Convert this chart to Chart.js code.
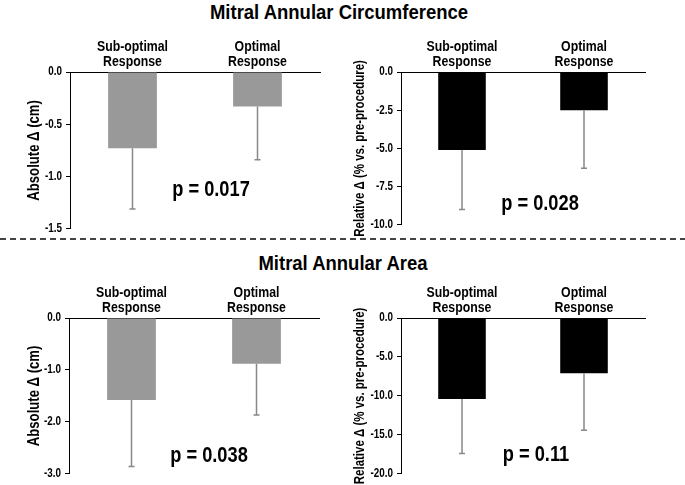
<!DOCTYPE html>
<html>
<head>
<meta charset="utf-8">
<script src="https://cdn.jsdelivr.net/npm/chart.js@4.4.0/dist/chart.umd.min.js"></script>
<style>
    body { margin: 0; background: #fff; }
    #wrap { position: relative; width: 685px; height: 485px; overflow: hidden;
        font-family: "Liberation Sans", Arial, sans-serif; font-weight: bold; color: #000; }
    canvas { position: absolute; }
    .title { position: absolute; font-size: 21px; line-height: 21px; white-space: nowrap;
        transform: translateX(-50%) scaleX(0.88); }
    .pval { position: absolute; font-size: 22px; line-height: 22px; white-space: nowrap;
        transform: translate(-50%, -50%) scaleX(0.83); }
    #dash { position: absolute; left: 0; top: 238px; width: 685px; height: 2px;
        background: repeating-linear-gradient(90deg, #444 0 6px, transparent 6px 10px); }
</style>
</head>
<body>
<div id="wrap">
    <div class="title" style="left:339px;top:1px;">Mitral Annular Circumference</div>
    <div id="dash"></div>
    <div class="title" style="left:343px;top:252px;">Mitral Annular Area</div>

    <canvas id="c1" width="340" height="210" style="left:0;top:30px;"></canvas>
    <canvas id="c2" width="345" height="206" style="left:340px;top:30px;"></canvas>
    <canvas id="c3" width="340" height="209" style="left:0;top:276px;"></canvas>
    <canvas id="c4" width="345" height="209" style="left:340px;top:276px;"></canvas>

    <div class="pval" style="left:211px;top:189px;">p = 0.017</div>
    <div class="pval" style="left:540px;top:203px;">p = 0.028</div>
    <div class="pval" style="left:209px;top:455px;">p = 0.038</div>
    <div class="pval" style="left:536px;top:454px;">p = 0.11</div>
</div>
<script>
var groups = [['Sub-optimal', 'Response'], ['Optimal', 'Response']];

// circumference
var circAbs = [-0.73, -0.33];
var circAbsErr = [-1.31, -0.84];
var circRel = [-5.1, -2.5];
var circRelErr = [-9.0, -6.3];

// area
var areaAbs = [-1.58, -0.88];
var areaAbsErr = [-2.86, -1.87];
var areaRel = [-10.4, -7.1];
var areaRelErr = [-17.4, -14.4];

var fontFam = '"Liberation Sans", Arial, sans-serif';

// no narrow font installed, so squeeze canvas text along its own direction
var narrowText = {
    id: 'narrowText',
    beforeInit: function (chart) {
        var ctx = chart.ctx;
        var fill = ctx.fillText;
        ctx.fillText = function (text, x, y) {
            this.save();
            this.translate(x, y);
            this.scale(0.82, 1);
            fill.call(this, text, 0, 0);
            this.restore();
        };
    }
};

// whiskers going down from each bar end, with a small cap
var errorBars = {
    id: 'errorBars',
    afterDatasetsDraw: function (chart) {
        var ctx = chart.ctx;
        var yScale = chart.scales.y;
        var errs = chart.data.datasets[0].errors;
        chart.getDatasetMeta(0).data.forEach(function (bar, i) {
            var yEnd = yScale.getPixelForValue(errs[i]);
            ctx.save();
            ctx.strokeStyle = '#888';
            ctx.lineWidth = 1.5;
            ctx.beginPath();
            ctx.moveTo(bar.x, bar.y);
            ctx.lineTo(bar.x, yEnd);
            ctx.moveTo(bar.x - 3, yEnd);
            ctx.lineTo(bar.x + 3, yEnd);
            ctx.stroke();
            ctx.restore();
        });
    }
};

function makePanel(id, vals, errs, color, yMin, step, yTitle, titleSize, yWidth, padRight, titlePad) {
    return new Chart(document.getElementById(id), {
        type: 'bar',
        data: {
            labels: groups,
            datasets: [{
                data: vals,
                errors: errs,
                backgroundColor: color,
                barPercentage: 0.39,
                categoryPercentage: 1
            }]
        },
        options: {
            responsive: false,
            animation: false,
            layout: { padding: { top: 0, right: padRight, bottom: 0, left: 0 } },
            scales: {
                x: {
                    position: 'top',
                    grid: { display: false, drawTicks: false },
                    border: { display: true, color: '#000', width: 1 },
                    ticks: {
                        color: '#000',
                        padding: 3,
                        maxRotation: 0,
                        autoSkip: false,
                        font: { family: fontFam, size: 15, weight: 'bold', lineHeight: 1 }
                    },
                    afterFit: function (s) { s.height = 42; }
                },
                y: {
                    min: yMin,
                    max: 0,
                    grid: { drawOnChartArea: false, drawTicks: true, tickLength: 4, color: '#000' },
                    border: { display: true, color: '#000', width: 1 },
                    ticks: {
                        stepSize: step,
                        color: '#000',
                        padding: 4,
                        font: { family: fontFam, size: 12, weight: 'bold' },
                        callback: function (v) { return v.toFixed(1); }
                    },
                    title: {
                        display: true,
                        text: yTitle,
                        color: '#000',
                        padding: { top: titlePad, bottom: 0 },
                        font: { family: fontFam, size: titleSize, weight: 'bold' }
                    },
                    afterFit: function (s) { s.width = yWidth; }
                }
            },
            plugins: {
                legend: { display: false },
                tooltip: { enabled: false }
            }
        },
        plugins: [narrowText, errorBars]
    });
}

makePanel('c1', circAbs, circAbsErr, '#999', -1.5, 0.5, 'Absolute \u0394 (cm)', 16, 70, 20, 25);
makePanel('c2', circRel, circRelErr, '#000', -10, 2.5, 'Relative \u0394 (% vs. pre-procedure)', 14, 61, 40, 12);
makePanel('c3', areaAbs, areaAbsErr, '#999', -3, 1, 'Absolute \u0394 (cm)', 16, 69, 21, 25);
makePanel('c4', areaRel, areaRelErr, '#000', -20, 5, 'Relative \u0394 (% vs. pre-procedure)', 14, 61, 40, 12);
</script>
</body>
</html>
